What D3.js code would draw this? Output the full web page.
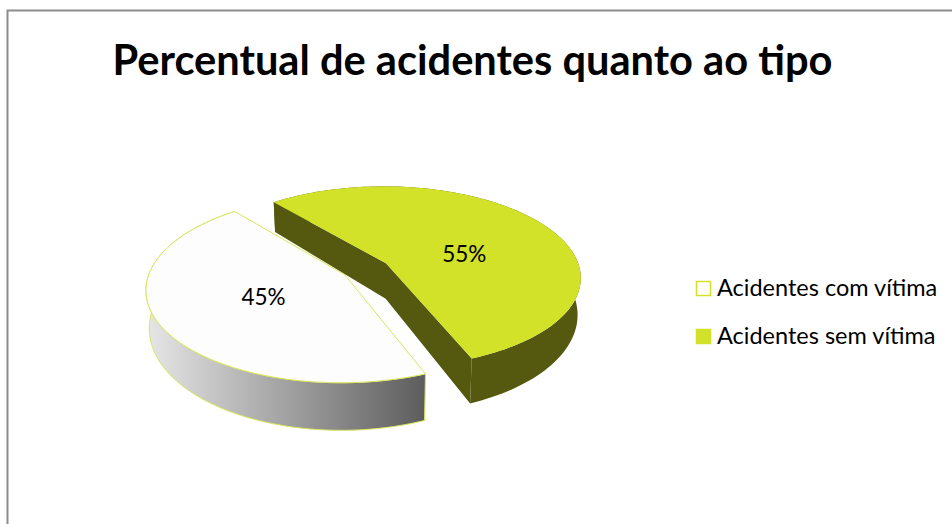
<!DOCTYPE html>
<html>
<head>
<meta charset="utf-8">
<script src="https://cdnjs.cloudflare.com/ajax/libs/d3/7.8.5/d3.min.js"></script>
<style>
  html, body { margin: 0; padding: 0; background: #fff; }
  svg { display: block; }
  text { font-family: Lato, "Open Sans", sans-serif; fill: #000; }
</style>
</head>
<body>
<svg id="chart" width="952" height="524"></svg>
<script>
const categories = ['Acidentes com vítima', 'Acidentes sem vítima'];
const values = [45, 55];
const labels = ['45%', '55%'];
const title = 'Percentual de acidentes quanto ao tipo';

const rad = Math.PI / 180;
const svg = d3.select('#chart');

// frame, runs off the right and bottom of the picture
svg.append('rect')
  .attr('x', 7.5).attr('y', 10.5)
  .attr('width', 1000).attr('height', 600)
  .attr('fill', '#fff').attr('stroke', '#8c8c8c').attr('stroke-width', 2);

svg.append('text')
  .attr('x', 472.5).attr('y', 75)
  .attr('text-anchor', 'middle')
  .style('font-size', '41.6px').style('font-weight', 700)
  .text(title);

// tilted disc seen in perspective
const cx = 365.5, cy = 268.9, R = 194, T = 90, k = 0.15;
const explode = 0.124, depth = 36;

function project(u, v) {
  const s = 1 / (1 + k * v);
  return {x: cx + R * u * s, y: cy - T * v * s, s: s};
}
function lower(p) {
  return [cx + (p.x - cx) * 0.985, p.y + depth * Math.pow(p.s, 1.6)];
}

const pie = d3.pie().sort(null).startAngle(158.3 * rad).endAngle(518.3 * rad);
const arcs = pie(values);
const line = d3.line();

const slices = arcs.map(a => {
  const mid = (a.startAngle + a.endAngle) / 2;
  const ox = Math.sin(mid) * explode, oy = Math.cos(mid) * explode;
  const at = (r, ang) => project(ox + r * Math.sin(ang), oy + r * Math.cos(ang));
  const n = 120;
  const rim = d3.range(n + 1).map(i => at(1, a.startAngle + (a.endAngle - a.startAngle) * i / n));
  return {a, mid, at, rim, apex: at(0, 0)};
});

const grad = svg.append('defs').append('linearGradient')
  .attr('id', 'rimGrad').attr('gradientUnits', 'userSpaceOnUse')
  .attr('x1', 147).attr('x2', 423).attr('y1', 0).attr('y2', 0);
grad.append('stop').attr('offset', 0).attr('stop-color', '#e6e6e6');
grad.append('stop').attr('offset', 1).attr('stop-color', '#5e5e5e');

const sideColors = ['url(#rimGrad)', '#54590f'];
const topColors = ['#fdfdfd', '#d1e228'];
const edgeColors = ['#d9e65a', 'none'];

// green slice first, white one sits in front of its wall
[1, 0].forEach(i => {
  const s = slices[i];
  const rimTop = s.rim.map(p => [p.x, p.y]);
  const first = s.rim[0], last = s.rim[s.rim.length - 1];

  // outer rim, only the part facing the viewer matters
  svg.append('path')
    .attr('d', line(rimTop.concat(s.rim.map(lower).reverse())) + 'Z')
    .attr('fill', sideColors[i])
    .attr('stroke', edgeColors[i]).attr('stroke-width', 1);

  // inner cut walls of the green slice
  if (i === 1) {
    const wall = [first, s.apex, last];
    svg.append('path')
      .attr('d', line(wall.map(p => [p.x, p.y]).concat(wall.map(lower).reverse())) + 'Z')
      .attr('fill', sideColors[i]);
  }

  svg.append('path')
    .attr('d', line(rimTop.concat([[s.apex.x, s.apex.y]])) + 'Z')
    .attr('fill', topColors[i])
    .attr('stroke', edgeColors[i]).attr('stroke-width', 1);
});

// data labels
const labelRadius = [0.46, 0.43];
const labelShift = [0, 16];
slices.forEach((s, i) => {
  const p = s.at(labelRadius[i], s.mid + labelShift[i] * rad);
  svg.append('text')
    .attr('x', p.x).attr('y', p.y)
    .attr('dy', '0.35em')
    .attr('text-anchor', 'middle')
    .style('font-size', '22.5px')
    .text(labels[i]);
});

// legend
const legendY = d3.scalePoint().domain(categories).range([288, 336]);
const legend = svg.selectAll('g.legend').data(categories).join('g')
  .attr('class', 'legend')
  .attr('transform', d => `translate(696,${legendY(d)})`);
legend.append('rect')
  .attr('x', 0.5).attr('y', -6.5)
  .attr('width', 14).attr('height', 14)
  .attr('fill', (d, i) => i ? topColors[1] : '#fff')
  .attr('stroke', topColors[1]).attr('stroke-width', 1.5);
legend.append('text')
  .attr('x', 21).attr('y', 8)
  .style('font-size', '23.5px')
  .text(d => d);
</script>
</body>
</html>
